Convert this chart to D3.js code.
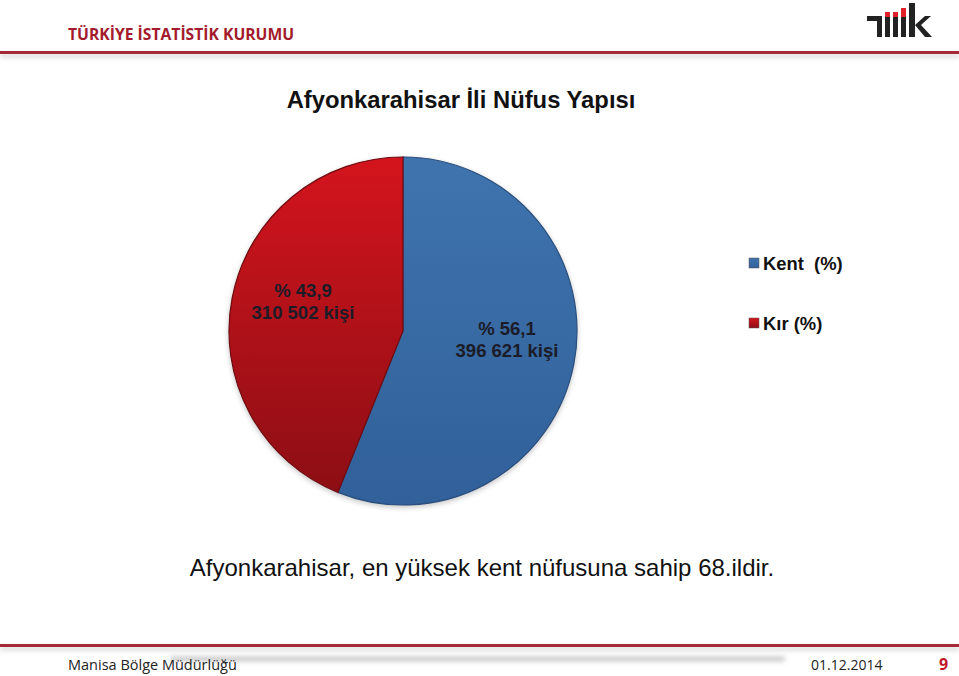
<!DOCTYPE html>
<html><head><meta charset="utf-8">
<script src="https://cdn.jsdelivr.net/npm/d3@7"></script>
<style>body{margin:0;background:#fff}svg{display:block}</style>
</head><body>
<svg id="c" width="959" height="676"></svg>
<script>
const categories = ["Kent (%)", "Kır (%)"];
const percents = [56.1, 43.9];
const people = ["396 621", "310 502"];
const pctLabels = ["% 56,1", "% 43,9"];

const svg = d3.select("#c");
const defs = svg.append("defs");
const grads = [
  {id:"gBlue", top:"#3f74ae", bot:"#31609a"},
  {id:"gRed", top:"#d4141d", bot:"#8c0e14"}
];
grads.forEach(g=>{
  const lg = defs.append("linearGradient").attr("id",g.id).attr("x1",0).attr("y1",0).attr("x2",0).attr("y2",1);
  lg.append("stop").attr("offset","0%").attr("stop-color",g.top);
  lg.append("stop").attr("offset","100%").attr("stop-color",g.bot);
});
const sh = defs.append("filter").attr("id","blur").attr("x","-10%").attr("y","-200%").attr("width","120%").attr("height","500%");
sh.append("feGaussianBlur").attr("stdDeviation",2.5);

// Header
svg.append("text").attr("x",68).attr("y",40).attr("font-family","'Open Sans',sans-serif").attr("font-weight","bold")
  .attr("font-size",15.7).attr("fill","#a31b2c").text("TÜRKİYE İSTATİSTİK KURUMU");
svg.append("rect").attr("x",0).attr("y",54).attr("width",959).attr("height",3).attr("fill","#ccc").attr("filter","url(#blur)");
svg.append("rect").attr("x",0).attr("y",51).attr("width",959).attr("height",3).attr("fill","#a32a38");

// Logo
const logo = svg.append("g").attr("transform","translate(867,3)");
logo.append("path").attr("d","M0 13 H15 V34 H10 V18 H0 Z").attr("fill","#222");
logo.append("rect").attr("x",18).attr("y",14).attr("width",5).attr("height",20).attr("fill","#222");
logo.append("rect").attr("x",26).attr("y",14).attr("width",5).attr("height",20).attr("fill","#222");
logo.append("rect").attr("x",34).attr("y",14).attr("width",5).attr("height",20).attr("fill","#222");
logo.append("rect").attr("x",18).attr("y",9).attr("width",5).attr("height",5).attr("fill","#e0202a");
logo.append("rect").attr("x",26).attr("y",9).attr("width",5).attr("height",5).attr("fill","#e0202a");
logo.append("rect").attr("x",34).attr("y",5).attr("width",5).attr("height",9).attr("fill","#e0202a");
logo.append("rect").attr("x",42).attr("y",0).attr("width",6).attr("height",34).attr("fill","#222");
logo.append("path").attr("d","M48 22 L58 13 H64 L54 22 L65 34 H58 Z").attr("fill","#222");

// Title
svg.append("text").attr("x",461).attr("y",108).attr("text-anchor","middle").attr("font-family","'Liberation Sans',Arial,sans-serif")
  .attr("font-weight","bold").attr("font-size",23.8).attr("fill","#111").text("Afyonkarahisar İli Nüfus Yapısı");

// Pie
const cx=403, cy=331, r=174;
const pie = d3.pie().sort(null).value(d=>d)(percents);
const arc = d3.arc().innerRadius(0).outerRadius(r);
const g = svg.append("g").attr("transform",`translate(${cx},${cy})`);
g.append("circle").attr("r",r+1).attr("cy",2).attr("fill","#999").attr("opacity",0.5).attr("filter","url(#blur)");
g.selectAll("path.s").data(pie).join("path").attr("class","s")
  .attr("d",arc)
  .attr("fill",(d,i)=>`url(#${grads[i].id})`)
  .attr("stroke",(d,i)=>i===0?"#2a4f7d":"#6e0b10").attr("stroke-width",1.2);

// Labels
const labelPos = [[507,335],[303,297]];
pie.forEach((d,i)=>{
  const t = svg.append("text").attr("text-anchor","middle").attr("font-family","'Liberation Sans',Arial,sans-serif")
    .attr("font-weight","bold").attr("font-size",18.5).attr("fill","#1c1c28");
  t.append("tspan").attr("x",labelPos[i][0]).attr("y",labelPos[i][1]).text(pctLabels[i]);
  t.append("tspan").attr("x",labelPos[i][0]).attr("y",labelPos[i][1]+22).text(people[i]+" kişi");
});

// Legend
categories.forEach((c,i)=>{
  const y = 263 + i*60;
  svg.append("rect").attr("x",749).attr("y",y-5).attr("width",10).attr("height",10)
    .attr("fill",`url(#${grads[i].id})`).attr("stroke","#555").attr("stroke-width",0.5);
  svg.append("text").attr("x",763).attr("y",y+7).attr("font-family","'Liberation Sans',Arial,sans-serif")
    .attr("font-weight","bold").attr("font-size",18.4).attr("fill","#111").attr("xml:space","preserve")
    .text(c.replace(" ", i===0?"  ":" "));
});

// Subtitle
svg.append("text").attr("x",482).attr("y",576).attr("text-anchor","middle").attr("font-family","'Liberation Sans',Arial,sans-serif")
  .attr("font-size",24).attr("fill","#111").text("Afyonkarahisar, en yüksek kent nüfusuna sahip 68.ildir.");

// Footer
svg.append("rect").attr("x",0).attr("y",647).attr("width",959).attr("height",3).attr("fill","#ccc").attr("filter","url(#blur)");
svg.append("rect").attr("x",0).attr("y",644).attr("width",959).attr("height",3).attr("fill","#a32a38");
svg.append("rect").attr("x",170).attr("y",657).attr("width",615).attr("height",4).attr("rx",2).attr("fill","#bbb").attr("filter","url(#blur)");
svg.append("text").attr("x",68).attr("y",670).attr("font-family","'Open Sans',sans-serif").attr("font-size",14.5).attr("fill","#222").text("Manisa Bölge Müdürlüğü");
svg.append("text").attr("x",811).attr("y",670).attr("font-family","'Open Sans',sans-serif").attr("font-size",14).attr("fill","#222").text("01.12.2014");
svg.append("text").attr("x",939).attr("y",670).attr("font-family","'Open Sans',sans-serif").attr("font-weight","bold").attr("font-size",16).attr("fill","#c0182a").text("9");
</script>
</body></html>
